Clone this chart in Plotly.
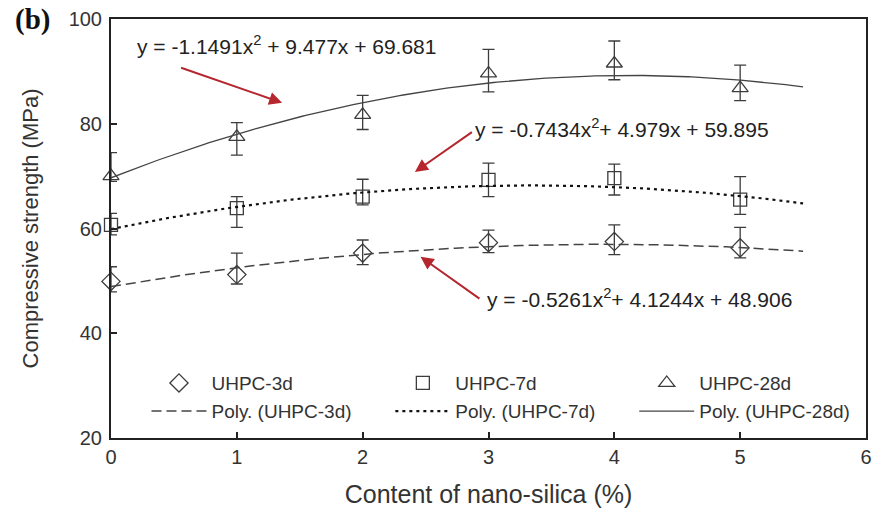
import numpy as np
import plotly.graph_objects as go

# ---- data ----
content = [0, 1, 2, 3, 4, 5]

uhpc_3d = [49.9, 51.2, 55.3, 57.3, 57.5, 56.3]
uhpc_3d_err_plus = [2.8, 4.1, 2.5, 2.4, 3.2, 3.9]
uhpc_3d_err_minus = [2.0, 1.8, 2.2, 1.9, 2.5, 1.9]

uhpc_7d = [60.7, 63.9, 66.1, 69.3, 69.6, 65.5]
uhpc_7d_err_plus = [2.2, 2.2, 3.3, 3.2, 2.7, 4.4]
uhpc_7d_err_minus = [1.9, 3.7, 1.6, 3.2, 3.2, 2.8]

uhpc_28d = [70.0, 77.5, 81.7, 89.6, 91.5, 86.8]
uhpc_28d_err_plus = [4.5, 2.7, 3.7, 4.6, 4.3, 4.4]
uhpc_28d_err_minus = [1.0, 3.5, 2.8, 3.5, 3.1, 2.4]

# trend-line coefficients shown in the chart (a, b, c for a*x^2 + b*x + c)
coef_3d = [-0.5261, 4.1244, 48.906]
coef_7d = [-0.7434, 4.979, 59.895]
coef_28d = [-1.1491, 9.477, 69.681]
fit_range = [0, 5.5]

eq_3d = "y = -0.5261x<sup>2</sup>+ 4.1244x + 48.906"
eq_7d = "y = -0.7434x<sup>2</sup>+ 4.979x + 59.895"
eq_28d = "y = -1.1491x<sup>2</sup> + 9.477x + 69.681"

# ---- figure ----
FONT = "Liberation Sans, Arial, sans-serif"
MK = "#3c3c3c"
TXT = "#333333"
xf = np.linspace(fit_range[0], fit_range[1], 200)

def poly(c):
    return c[0] * xf**2 + c[1] * xf + c[2]

fig = go.Figure()

def add_pts(y, ep, em, sym, size, name, leg):
    fig.add_trace(go.Scatter(
        x=content, y=y, mode="markers", name=name, legend=leg,
        marker=dict(symbol=sym, size=size, color=MK,
                    line=dict(color=MK, width=1.3)),
        error_y=dict(type="data", array=ep, arrayminus=em, symmetric=False,
                     color=MK, thickness=1.3, width=6),
        cliponaxis=False,
    ))

add_pts(uhpc_3d, uhpc_3d_err_plus, uhpc_3d_err_minus, "diamond-open", 14, "UHPC-3d", "legend")
add_pts(uhpc_7d, uhpc_7d_err_plus, uhpc_7d_err_minus, "square-open", 13, "UHPC-7d", "legend2")
add_pts(uhpc_28d, uhpc_28d_err_plus, uhpc_28d_err_minus, "triangle-up-open", 14, "UHPC-28d", "legend3")

fig.add_trace(go.Scatter(x=xf, y=poly(coef_3d), mode="lines", name="Poly. (UHPC-3d)",
                         legend="legend4",
                         line=dict(color="#444444", width=1.5, dash="10px,5px")))
fig.add_trace(go.Scatter(x=xf, y=poly(coef_7d), mode="lines", name="Poly. (UHPC-7d)",
                         legend="legend5",
                         line=dict(color="#111111", width=2.2, dash="3px,4px")))
fig.add_trace(go.Scatter(x=xf, y=poly(coef_28d), mode="lines", name="Poly. (UHPC-28d)",
                         legend="legend6",
                         line=dict(color="#444444", width=1.3)))

ARROW = "#b5262e"
EQF = dict(size=21, color="#222", family=FONT)
annotations = [
    dict(x=0.19, y=95.0, xref="x", yref="y", text=eq_28d, showarrow=False,
         xanchor="left", yanchor="middle", font=EQF),
    dict(x=2.88, y=79.2, xref="x", yref="y", text=eq_7d, showarrow=False,
         xanchor="left", yanchor="middle", font=EQF),
    dict(x=2.975, y=46.8, xref="x", yref="y", text=eq_3d, showarrow=False,
         xanchor="left", yanchor="middle", font=EQF),
    # arrows
    dict(x=1.36, y=84.0, ax=0.545, ay=90.8, xref="x", yref="y", axref="x", ayref="y",
         text="", showarrow=True, arrowhead=2, arrowsize=1.3, arrowwidth=2, arrowcolor=ARROW),
    dict(x=2.415, y=70.8, ax=2.88, ay=78.6, xref="x", yref="y", axref="x", ayref="y",
         text="", showarrow=True, arrowhead=2, arrowsize=1.3, arrowwidth=2, arrowcolor=ARROW),
    dict(x=2.46, y=54.6, ax=2.94, ay=46.4, xref="x", yref="y", axref="x", ayref="y",
         text="", showarrow=True, arrowhead=2, arrowsize=1.3, arrowwidth=2, arrowcolor=ARROW),
    dict(x=-0.13, y=1.0, xref="paper", yref="paper", text="<b>(b)</b>", showarrow=False,
         xanchor="left", yanchor="middle",
         font=dict(size=29, color="#111", family="Liberation Serif, Times New Roman, serif")),
]

axis_common = dict(showline=True, linecolor="#222", linewidth=2, mirror=True,
                   ticks="inside", ticklen=6, tickwidth=1.5, tickcolor="#222",
                   showgrid=False, zeroline=False,
                   tickfont=dict(size=20, color=TXT, family=FONT))

def leg(x, y):
    return dict(orientation="h", bgcolor="rgba(0,0,0,0)", xanchor="left",
                yanchor="middle", itemwidth=55, x=x, y=y,
                font=dict(size=19, color=TXT, family=FONT), itemclick=False)

ROW1, ROW2 = 0.131, 0.064
COLS = [0.047, 0.37, 0.693]

fig.update_layout(
    width=879, height=512,
    margin=dict(l=111, r=7, t=19, b=74),
    paper_bgcolor="white", plot_bgcolor="white",
    xaxis=dict(range=[0, 6], dtick=1,
               title=dict(text="Content of nano-silica (%)", standoff=18,
                          font=dict(size=25, color=TXT, family=FONT)),
               **axis_common),
    yaxis=dict(range=[20, 100], dtick=20, ticklabelstandoff=3,
               title=dict(text="Compressive strength (MPa)", standoff=24,
                          font=dict(size=22, color=TXT, family=FONT)),
               **axis_common),
    legend=leg(COLS[0], ROW1),
    legend2=leg(COLS[1], ROW1),
    legend3=leg(COLS[2], ROW1),
    legend4=leg(COLS[0], ROW2),
    legend5=leg(COLS[1], ROW2),
    legend6=leg(COLS[2], ROW2),
    annotations=annotations,
    showlegend=True,
)

fig.write_html("out.html")
